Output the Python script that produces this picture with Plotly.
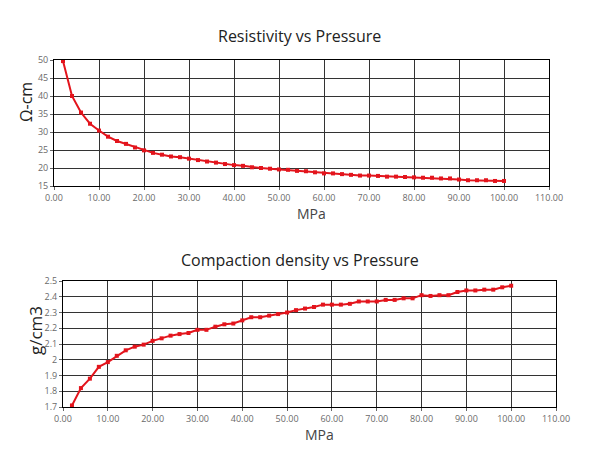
import plotly.graph_objects as go

# pressure steps (MPa)
pressure = [2, 4, 6, 8, 10, 12, 14, 16, 18, 20, 22, 24, 26, 28, 30, 32, 34, 36, 38, 40,
            42, 44, 46, 48, 50, 52, 54, 56, 58, 60, 62, 64, 66, 68, 70, 72, 74, 76, 78, 80,
            82, 84, 86, 88, 90, 92, 94, 96, 98, 100]

# resistivity, ohm-cm
resistivity = [49.7, 40.0, 35.4, 32.3, 30.4, 28.7, 27.5, 26.7, 25.7, 24.9,
               24.2, 23.7, 23.2, 23.0, 22.6, 22.2, 21.8, 21.5, 21.1, 20.8,
               20.6, 20.2, 20.0, 19.8, 19.6, 19.5, 19.2, 19.1, 18.8, 18.5,
               18.5, 18.3, 18.1, 17.9, 17.9, 17.8, 17.6, 17.6, 17.5, 17.4,
               17.3, 17.3, 17.1, 17.1, 16.8, 16.6, 16.6, 16.6, 16.4, 16.4]

# compaction density, g/cm3
density = [1.71, 1.82, 1.88, 1.955, 1.985, 2.025, 2.06, 2.083, 2.096, 2.12,
           2.136, 2.153, 2.163, 2.17, 2.19, 2.19, 2.21, 2.225, 2.23, 2.25,
           2.27, 2.27, 2.28, 2.29, 2.30, 2.315, 2.325, 2.335, 2.35, 2.35,
           2.35, 2.355, 2.37, 2.37, 2.37, 2.38, 2.38, 2.39, 2.39, 2.41,
           2.405, 2.41, 2.41, 2.43, 2.44, 2.44, 2.445, 2.445, 2.46, 2.47]

x_ticks = [0, 10, 20, 30, 40, 50, 60, 70, 80, 90, 100, 110]
x_tick_text = ["%.2f" % v for v in x_ticks]
dens_ticks = [1.7, 1.8, 1.9, 2.0, 2.1, 2.2, 2.3, 2.4, 2.5]
dens_tick_text = ["1.7", "1.8", "1.9", "2", "2.1", "2.2", "2.3", "2.4", "2.5"]

red = "#e3141c"
font = "Open Sans"
tick_font = dict(family=font, size=9, color="#6a6a6a")

fig = go.Figure()

fig.add_trace(go.Scatter(x=pressure, y=resistivity, mode="lines+markers",
                         line=dict(color=red, width=2),
                         marker=dict(symbol="square", size=4, color=red),
                         xaxis="x", yaxis="y", showlegend=False))
fig.add_trace(go.Scatter(x=pressure, y=density, mode="lines+markers",
                         line=dict(color=red, width=2),
                         marker=dict(symbol="square", size=4, color=red),
                         xaxis="x2", yaxis="y2", showlegend=False))

common_axis = dict(showline=True, linecolor="black", linewidth=1, mirror=True,
                   showgrid=True, gridcolor="#333333", gridwidth=1,
                   ticks="outside", ticklen=3, tickcolor="#666666",
                   tickfont=tick_font, zeroline=False, automargin=False)

# page body adds an 8px margin, so the figure is 16px smaller than the window
W, H = 584, 453


def px(x):
    return (x - 8) / W


def py(y):
    return 1 - (y - 8) / H


def label(text, x, y, size, color="#222222", angle=0):
    return dict(text=text, x=px(x), y=py(y), xref="paper", yref="paper",
                xanchor="center", yanchor="middle", showarrow=False,
                textangle=angle, font=dict(family=font, size=size, color=color))


fig.update_layout(
    width=W, height=H,
    paper_bgcolor="white", plot_bgcolor="white",
    margin=dict(l=0, r=0, t=0, b=0),
    xaxis=dict(domain=[px(54), px(549)], anchor="y", range=[0, 110],
               tickvals=x_ticks, ticktext=x_tick_text, **common_axis),
    yaxis=dict(domain=[py(186), py(60)], anchor="x", range=[15, 50], dtick=5,
               **common_axis),
    xaxis2=dict(domain=[px(63), px(556)], anchor="y2", range=[0, 110],
                tickvals=x_ticks, ticktext=x_tick_text, **common_axis),
    yaxis2=dict(domain=[py(407), py(281)], anchor="x2", range=[1.7, 2.5],
                tickvals=dens_ticks, ticktext=dens_tick_text, **common_axis),
    annotations=[
        label("Resistivity vs Pressure", 299, 36, 16),
        label("Compaction density vs Pressure", 300, 260, 16),
        label("MPa", 311, 213, 14, "#444444"),
        label("MPa", 319, 434, 14, "#444444"),
        label("Ω-cm", 26, 102, 16, angle=-90),
        label("g/cm3", 35, 331, 17, angle=-90),
    ],
)

fig.write_html("out.html")
